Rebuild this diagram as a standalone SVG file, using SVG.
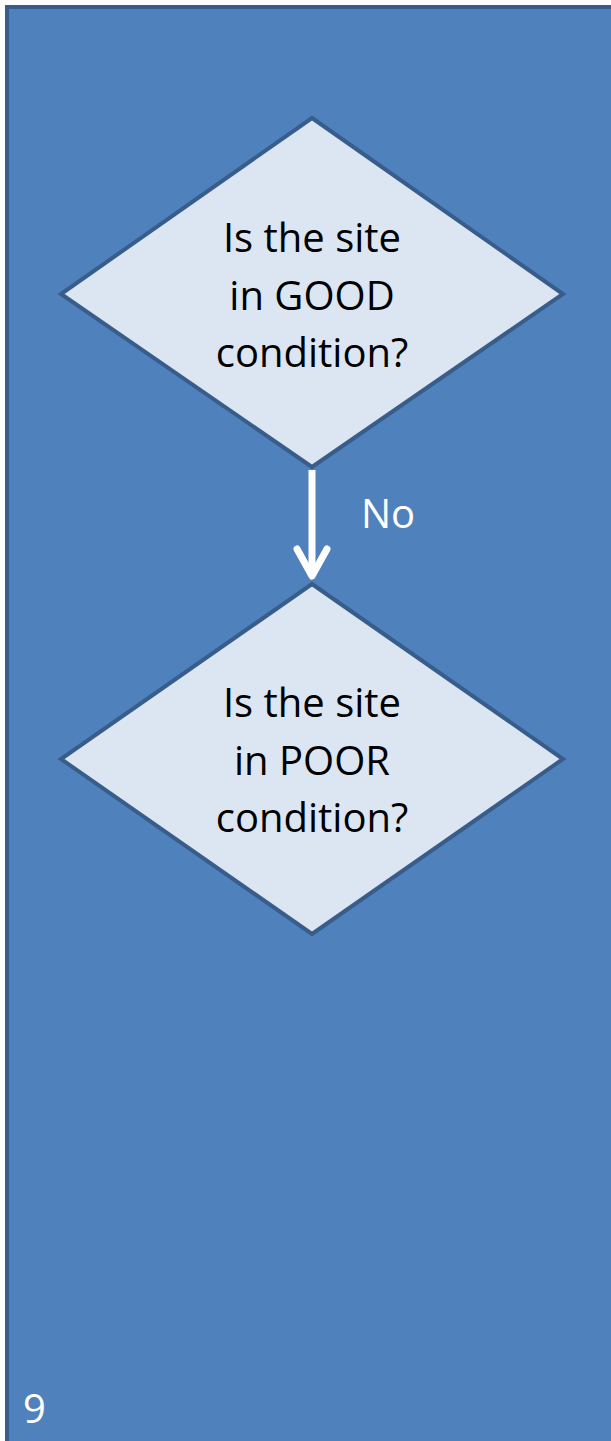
<svg xmlns="http://www.w3.org/2000/svg" width="611" height="1441" viewBox="0 0 611 1441">
<style>
.dia{fill:#dce6f2;stroke:#385d8a;stroke-width:4;stroke-linejoin:miter}
.t{font-family:"Open Sans","Liberation Sans",sans-serif;font-size:40px;fill:#000;text-anchor:middle}
.w{font-family:"Open Sans","Liberation Sans",sans-serif;font-size:40px;fill:#fff}
.con{stroke:#fff;stroke-width:7;fill:none;stroke-linecap:round;stroke-linejoin:round}
</style>
<rect x="7" y="7" width="620" height="1450" fill="#4f81bd" stroke="#385d8a" stroke-width="4"/>
<g id="connectors">
<line class="con" x1="312" y1="470" x2="312" y2="574" style="stroke-linecap:butt"/>
<polyline class="con" points="297,549 312,576 327,549"/>
<text class="w" x="361" y="528">No</text>
</g>
<g id="node-good">
<polygon class="dia" points="312,118 563,294 312,467 61,294"/>
<text class="t" x="312" y="252">Is the site</text>
<text class="t" x="312" y="310">in GOOD</text>
<text class="t" x="312" y="367">condition?</text>
</g>
<g id="node-poor">
<polygon class="dia" points="312,584 563,759 312,934 61,759"/>
<text class="t" x="312" y="717">Is the site</text>
<text class="t" x="312" y="775">in POOR</text>
<text class="t" x="312" y="832">condition?</text>
</g>
<text class="w" x="23" y="1423">9</text>
</svg>
